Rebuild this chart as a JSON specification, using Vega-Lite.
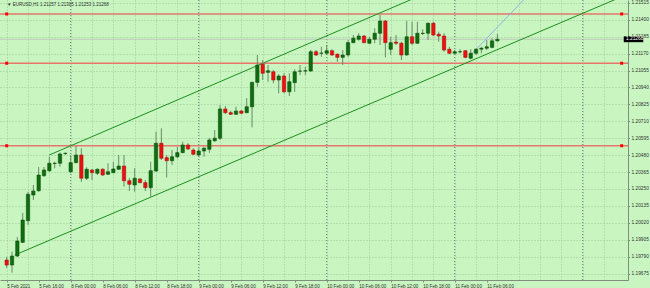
{
  "$schema": "https://vega.github.io/schema/vega-lite/v6.json",
  "width": 628,
  "height": 280,
  "padding": {"left": 0, "top": 0, "right": 22, "bottom": 8},
  "autosize": {"type": "none"},
  "background": "#c8f5c0",
  "config": {"view": {"stroke": null}, "font": "Liberation Sans"},
  "datasets": {
    "candles": [
      {"i":0,"o":1.19767,"h":1.19789,"l":1.19713,"c":1.19733},
      {"i":1,"o":1.19733,"h":1.19823,"l":1.19681,"c":1.19794},
      {"i":2,"o":1.19794,"h":1.19923,"l":1.19787,"c":1.19896},
      {"i":3,"o":1.19887,"h":1.20087,"l":1.19883,"c":1.20039},
      {"i":4,"o":1.20034,"h":1.20231,"l":1.20005,"c":1.20214},
      {"i":5,"o":1.20209,"h":1.20277,"l":1.20175,"c":1.20236},
      {"i":6,"o":1.20238,"h":1.20399,"l":1.20231,"c":1.20345},
      {"i":7,"o":1.20340,"h":1.20399,"l":1.20333,"c":1.20379},
      {"i":8,"o":1.20374,"h":1.20469,"l":1.20367,"c":1.20425},
      {"i":9,"o":1.20423,"h":1.20435,"l":1.20391,"c":1.20425},
      {"i":10,"o":1.20425,"h":1.20497,"l":1.20401,"c":1.20488},
      {"i":11,"o":1.20491,"h":1.20497,"l":1.20481,"c":1.20493},
      {"i":12,"o":1.20367,"h":1.20481,"l":1.20357,"c":1.20429},
      {"i":13,"o":1.20429,"h":1.20542,"l":1.20425,"c":1.20481},
      {"i":14,"o":1.20481,"h":1.20527,"l":1.20299,"c":1.20323},
      {"i":15,"o":1.20323,"h":1.20397,"l":1.20311,"c":1.20384},
      {"i":16,"o":1.20379,"h":1.20384,"l":1.20311,"c":1.20361},
      {"i":17,"o":1.20357,"h":1.20391,"l":1.20345,"c":1.20384},
      {"i":18,"o":1.20384,"h":1.20391,"l":1.20340,"c":1.20345},
      {"i":19,"o":1.20350,"h":1.20425,"l":1.20345,"c":1.20367},
      {"i":20,"o":1.20361,"h":1.20435,"l":1.20357,"c":1.20386},
      {"i":21,"o":1.20384,"h":1.20481,"l":1.20379,"c":1.20406},
      {"i":22,"o":1.20406,"h":1.20481,"l":1.20265,"c":1.20306},
      {"i":23,"o":1.20306,"h":1.20325,"l":1.20236,"c":1.20282},
      {"i":24,"o":1.20277,"h":1.20391,"l":1.20231,"c":1.20323},
      {"i":25,"o":1.20318,"h":1.20323,"l":1.20289,"c":1.20293},
      {"i":26,"o":1.20293,"h":1.20311,"l":1.20236,"c":1.20259},
      {"i":27,"o":1.20259,"h":1.20435,"l":1.20197,"c":1.20374},
      {"i":28,"o":1.20372,"h":1.20639,"l":1.20367,"c":1.20561},
      {"i":29,"o":1.20561,"h":1.20663,"l":1.20447,"c":1.20459},
      {"i":30,"o":1.20463,"h":1.20481,"l":1.20329,"c":1.20442},
      {"i":31,"o":1.20442,"h":1.20515,"l":1.20413,"c":1.20469},
      {"i":32,"o":1.20469,"h":1.20537,"l":1.20459,"c":1.20497},
      {"i":33,"o":1.20497,"h":1.20571,"l":1.20493,"c":1.20549},
      {"i":34,"o":1.20549,"h":1.20561,"l":1.20515,"c":1.20522},
      {"i":35,"o":1.20515,"h":1.20527,"l":1.20481,"c":1.20486},
      {"i":36,"o":1.20481,"h":1.20527,"l":1.20469,"c":1.20508},
      {"i":37,"o":1.20508,"h":1.20537,"l":1.20469,"c":1.20527},
      {"i":38,"o":1.20520,"h":1.20597,"l":1.20495,"c":1.20583},
      {"i":39,"o":1.20578,"h":1.20651,"l":1.20571,"c":1.20595},
      {"i":40,"o":1.20595,"h":1.20821,"l":1.20583,"c":1.20794},
      {"i":41,"o":1.20794,"h":1.20814,"l":1.20760,"c":1.20769},
      {"i":42,"o":1.20769,"h":1.20782,"l":1.20753,"c":1.20758},
      {"i":43,"o":1.20758,"h":1.20809,"l":1.20753,"c":1.20780},
      {"i":44,"o":1.20780,"h":1.20787,"l":1.20760,"c":1.20765},
      {"i":45,"o":1.20769,"h":1.20867,"l":1.20765,"c":1.20809},
      {"i":46,"o":1.20809,"h":1.20979,"l":1.20669,"c":1.20975},
      {"i":47,"o":1.20975,"h":1.21161,"l":1.20945,"c":1.21093},
      {"i":48,"o":1.21098,"h":1.21127,"l":1.20991,"c":1.21037},
      {"i":49,"o":1.21043,"h":1.21093,"l":1.20979,"c":1.21054},
      {"i":50,"o":1.21047,"h":1.21059,"l":1.20969,"c":1.20991},
      {"i":51,"o":1.20991,"h":1.21030,"l":1.20901,"c":1.21018},
      {"i":52,"o":1.21018,"h":1.21037,"l":1.20901,"c":1.20911},
      {"i":53,"o":1.20911,"h":1.21037,"l":1.20882,"c":1.20979},
      {"i":54,"o":1.20973,"h":1.21064,"l":1.20911,"c":1.21047},
      {"i":55,"o":1.21051,"h":1.21093,"l":1.21025,"c":1.21052},
      {"i":56,"o":1.21052,"h":1.21081,"l":1.21025,"c":1.21054},
      {"i":57,"o":1.21052,"h":1.21195,"l":1.21047,"c":1.21183},
      {"i":58,"o":1.21183,"h":1.21195,"l":1.21154,"c":1.21161},
      {"i":59,"o":1.21173,"h":1.21217,"l":1.21149,"c":1.21174},
      {"i":60,"o":1.21173,"h":1.21229,"l":1.21161,"c":1.21190},
      {"i":61,"o":1.21190,"h":1.21200,"l":1.21154,"c":1.21161},
      {"i":62,"o":1.21166,"h":1.21173,"l":1.21115,"c":1.21145},
      {"i":63,"o":1.21145,"h":1.21195,"l":1.21093,"c":1.21161},
      {"i":64,"o":1.21161,"h":1.21263,"l":1.21149,"c":1.21245},
      {"i":65,"o":1.21245,"h":1.21297,"l":1.21241,"c":1.21275},
      {"i":66,"o":1.21268,"h":1.21309,"l":1.21258,"c":1.21290},
      {"i":67,"o":1.21290,"h":1.21297,"l":1.21241,"c":1.21245},
      {"i":68,"o":1.21241,"h":1.21285,"l":1.21234,"c":1.21268},
      {"i":69,"o":1.21268,"h":1.21343,"l":1.21241,"c":1.21309},
      {"i":70,"o":1.21309,"h":1.21433,"l":1.21229,"c":1.21392},
      {"i":71,"o":1.21392,"h":1.21399,"l":1.21145,"c":1.21245},
      {"i":72,"o":1.21200,"h":1.21285,"l":1.21161,"c":1.21245},
      {"i":73,"o":1.21249,"h":1.21297,"l":1.21229,"c":1.21241},
      {"i":74,"o":1.21241,"h":1.21251,"l":1.21127,"c":1.21161},
      {"i":75,"o":1.21161,"h":1.21394,"l":1.21157,"c":1.21285},
      {"i":76,"o":1.21285,"h":1.21387,"l":1.21229,"c":1.21241},
      {"i":77,"o":1.21241,"h":1.21387,"l":1.21237,"c":1.21309},
      {"i":78,"o":1.21307,"h":1.21336,"l":1.21297,"c":1.21309},
      {"i":79,"o":1.21309,"h":1.21381,"l":1.21263,"c":1.21377},
      {"i":80,"o":1.21377,"h":1.21387,"l":1.21290,"c":1.21297},
      {"i":81,"o":1.21302,"h":1.21319,"l":1.21251,"c":1.21290},
      {"i":82,"o":1.21290,"h":1.21309,"l":1.21183,"c":1.21195},
      {"i":83,"o":1.21200,"h":1.21217,"l":1.21166,"c":1.21173},
      {"i":84,"o":1.21173,"h":1.21195,"l":1.21161,"c":1.21183},
      {"i":85,"o":1.21182,"h":1.21200,"l":1.21173,"c":1.21183},
      {"i":86,"o":1.21190,"h":1.21195,"l":1.21139,"c":1.21145},
      {"i":87,"o":1.21139,"h":1.21200,"l":1.21132,"c":1.21173},
      {"i":88,"o":1.21173,"h":1.21207,"l":1.21161,"c":1.21200},
      {"i":89,"o":1.21200,"h":1.21217,"l":1.21173,"c":1.21207},
      {"i":90,"o":1.21207,"h":1.21263,"l":1.21195,"c":1.21217},
      {"i":91,"o":1.21213,"h":1.21275,"l":1.21207,"c":1.21257},
      {"i":92,"o":1.21257,"h":1.21305,"l":1.21253,"c":1.21268}
    ],
    "hlines": [{"p": 1.21440}, {"p": 1.21105}, {"p": 1.20544}],
    "days": [{"i": 12}, {"i": 36}, {"i": 60}, {"i": 84}, {"i": 108}],
    "trend": [
      {"line": "upper", "i": 7.99, "p": 1.20481},
      {"line": "upper", "i": 115.55, "p": 1.22157},
      {"line": "lower", "i": 1.53, "p": 1.19801},
      {"line": "lower", "i": 115.55, "p": 1.21561}
    ],
    "blue": [{"i": 87.0, "p": 1.21161}, {"i": 98.7, "p": 1.21603}],
    "last": [{"p": 1.21268, "t": "1.21268"}],
    "info": [{"t": "▼ EURUSD,H1  1.21257 1.21305 1.21253 1.21268"}]
  },
  "resolve": {"axis": {"x": "independent", "y": "independent"}},
  "layer": [
    {
      "data": {"name": "days"},
      "mark": {"type": "rule", "color": "#7a7a7a", "strokeDash": [1, 2], "strokeWidth": 1},
      "encoding": {
        "x": {"field": "i", "type": "quantitative", "title": null,
              "scale": {"domain": [-0.314, 115.55], "nice": false, "zero": false},
              "axis": {"orient": "top", "values": [0,4,8,12,16,20,24,28,32,36,40,44,48,52,56,60,64,68,72,76,80,84,88,92,96,100,104,108,112],
                       "grid": true, "gridColor": "#9ec89a", "gridDash": [1, 2], "gridWidth": 1,
                       "labels": false, "ticks": false, "domain": false, "title": null}}
      }
    },
    {
      "data": {"name": "hlines"},
      "mark": {"type": "rule", "color": "#e5776c", "strokeWidth": 1.5},
      "encoding": {
        "y": {"field": "p", "type": "quantitative", "title": null,
              "scale": {"domain": [1.19631, 1.21535], "nice": false, "zero": false},
              "axis": {"orient": "right", "values": [1.21515,1.214,1.21285,1.2117,1.21055,1.2094,1.20825,1.2071,1.20595,1.2048,1.20365,1.2025,1.20135,1.2002,1.19905,1.1979,1.19675],
                       "format": ".5f", "labelFontSize": 4.8, "labelColor": "#333333", "labelPadding": 1.5,
                       "labelFlush": false, "labelOverlap": false, "labelBound": false, "labelBaseline": "middle",
                       "tickSize": 1.5, "tickColor": "#7f8f7f", "domainColor": "#7f8f7f",
                       "grid": true, "gridColor": "#9ec89a", "gridDash": [1, 2], "gridWidth": 1, "title": null}}
      }
    },
    {
      "data": {"name": "hlines"},
      "mark": {"type": "point", "shape": "square", "filled": true, "size": 9, "color": "#ff0000", "opacity": 1},
      "encoding": {
        "x": {"datum": 0.0, "type": "quantitative", "scale": {"domain": [-0.314, 115.55], "nice": false, "zero": false}, "axis": null},
        "y": {"field": "p", "type": "quantitative", "title": null, "scale": {"domain": [1.19631, 1.21535], "nice": false, "zero": false}, "axis": null}
      }
    },
    {
      "data": {"name": "hlines"},
      "mark": {"type": "point", "shape": "square", "filled": true, "size": 9, "color": "#ff0000", "opacity": 1},
      "encoding": {
        "x": {"datum": 115.3, "type": "quantitative", "scale": {"domain": [-0.314, 115.55], "nice": false, "zero": false}, "axis": null},
        "y": {"field": "p", "type": "quantitative", "title": null, "scale": {"domain": [1.19631, 1.21535], "nice": false, "zero": false}, "axis": null}
      }
    },
    {
      "data": {"name": "last"},
      "mark": {"type": "rule", "color": "#b4b4b4", "strokeWidth": 0.6},
      "encoding": {
        "y": {"field": "p", "type": "quantitative", "title": null, "scale": {"domain": [1.19631, 1.21535], "nice": false, "zero": false}, "axis": null}
      }
    },
    {
      "data": {"name": "trend"},
      "mark": {"type": "line", "color": "#1f8f1f", "strokeWidth": 1, "clip": true},
      "encoding": {
        "x": {"field": "i", "type": "quantitative", "title": null, "scale": {"domain": [-0.314, 115.55], "nice": false, "zero": false}, "axis": null},
        "y": {"field": "p", "type": "quantitative", "title": null, "scale": {"domain": [1.19631, 1.21535], "nice": false, "zero": false}, "axis": null},
        "detail": {"field": "line"}
      }
    },
    {
      "data": {"name": "blue"},
      "mark": {"type": "line", "color": "#7fa4ee", "strokeWidth": 0.8, "clip": true},
      "encoding": {
        "x": {"field": "i", "type": "quantitative", "title": null, "scale": {"domain": [-0.314, 115.55], "nice": false, "zero": false}, "axis": null},
        "y": {"field": "p", "type": "quantitative", "title": null, "scale": {"domain": [1.19631, 1.21535], "nice": false, "zero": false}, "axis": null}
      }
    },
    {
      "data": {"name": "candles"},
      "mark": {"type": "rule", "color": "#6a8a6a", "strokeWidth": 1},
      "encoding": {
        "x": {"field": "i", "type": "quantitative", "title": null,
              "scale": {"domain": [-0.314, 115.55], "nice": false, "zero": false},
              "axis": {"orient": "bottom", "values": [0,6,12,18,24,30,36,42,48,54,60,66,72,78,84,90],
                       "labelExpr": "['5 Feb 2021','5 Feb 16:00','8 Feb 00:00','8 Feb 06:00','8 Feb 12:00','8 Feb 18:00','9 Feb 00:00','9 Feb 06:00','9 Feb 12:00','9 Feb 18:00','10 Feb 00:00','10 Feb 06:00','10 Feb 12:00','10 Feb 18:00','11 Feb 00:00','11 Feb 06:00'][round(datum.value/6)]",
                       "labelAlign": "left", "labelBaseline": "top", "labelFontSize": 4.6, "labelColor": "#333333",
                       "labelPadding": 1, "labelFlush": false, "labelOverlap": false,
                       "tickSize": 2, "tickColor": "#7f8f7f", "domainColor": "#7f8f7f", "grid": false, "title": null}},
        "y": {"field": "l", "type": "quantitative", "title": null,
              "scale": {"domain": [1.19631, 1.21535], "nice": false, "zero": false}, "axis": null},
        "y2": {"field": "h"}
      }
    },
    {
      "data": {"name": "candles"},
      "mark": {"type": "bar", "size": 3.3, "strokeWidth": 0.6},
      "encoding": {
        "x": {"field": "i", "type": "quantitative", "title": null, "scale": {"domain": [-0.314, 115.55], "nice": false, "zero": false}, "axis": null},
        "y": {"field": "o", "type": "quantitative", "title": null, "scale": {"domain": [1.19631, 1.21535], "nice": false, "zero": false}, "axis": null},
        "y2": {"field": "c"},
        "fill": {"condition": {"test": "datum.c >= datum.o", "value": "#0f6e0f"}, "value": "#ee1111"},
        "stroke": {"condition": {"test": "datum.c >= datum.o", "value": "#0a4f0a"}, "value": "#b00a0a"}
      }
    },
    {
      "data": {"name": "last"},
      "mark": {"type": "point", "shape": "M-1,-0.3H1V0.3H-1Z", "filled": true, "size": 380, "color": "#000000", "opacity": 1, "strokeWidth": 0, "xOffset": 10.5},
      "encoding": {
        "x": {"datum": 115.55, "type": "quantitative", "scale": {"domain": [-0.314, 115.55], "nice": false, "zero": false}, "axis": null},
        "y": {"field": "p", "type": "quantitative", "title": null, "scale": {"domain": [1.19631, 1.21535], "nice": false, "zero": false}, "axis": null}
      }
    },
    {
      "data": {"name": "last"},
      "mark": {"type": "text", "color": "#ffffff", "fontSize": 4.8, "align": "left", "baseline": "middle", "dx": 3},
      "encoding": {
        "x": {"datum": 115.55, "type": "quantitative", "scale": {"domain": [-0.314, 115.55], "nice": false, "zero": false}, "axis": null},
        "y": {"field": "p", "type": "quantitative", "title": null, "scale": {"domain": [1.19631, 1.21535], "nice": false, "zero": false}, "axis": null},
        "text": {"field": "t"}
      }
    },
    {
      "data": {"name": "info"},
      "mark": {"type": "text", "color": "#303030", "fontSize": 4.5, "align": "left", "baseline": "top", "dx": 2, "dy": 2},
      "encoding": {
        "x": {"datum": -0.314, "type": "quantitative", "scale": {"domain": [-0.314, 115.55], "nice": false, "zero": false}, "axis": null},
        "y": {"datum": 1.21535, "type": "quantitative", "scale": {"domain": [1.19631, 1.21535], "nice": false, "zero": false}, "axis": null},
        "text": {"field": "t"}
      }
    }
  ]
}
